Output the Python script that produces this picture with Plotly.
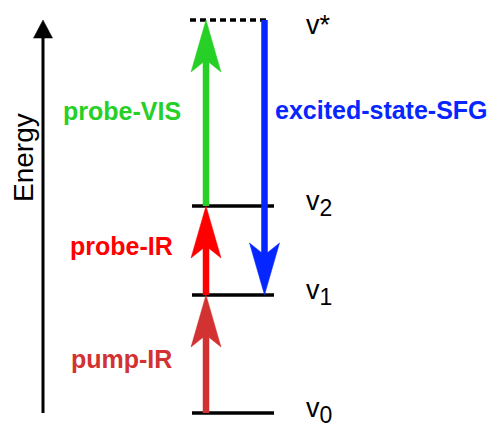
import plotly.graph_objects as go

# ---------------- data ----------------
level_names = ["v", "v", "v", "v"]
level_subscripts = ["0", "1", "2", ""]
level_superscripts = ["", "", "", "*"]
level_energy = [0.0, 1.0, 1.754, 3.33]
level_dashed = [False, False, False, True]

transition_names = ["pump-IR", "probe-IR", "probe-VIS", "excited-state-SFG"]
transition_from = [0, 1, 2, 3]   # index into levels
transition_to = [1, 2, 3, 1]
transition_colors = ["#d23232", "#ff0000", "#26d026", "#0626ff"]

axis_title = "Energy"

# ---------------- layout / style ----------------
W, H = 489, 425
Y_RANGE = [-0.1017, 3.5]
PX_PER_E = H / (Y_RANGE[1] - Y_RANGE[0])

level_x = [[192, 274], [192, 274], [192, 274], [190, 270]]
arrow_x = [206, 206, 206, 264.5]
label_x = [121, 121, 121.5, 381.5]
label_yshift = [-5, 4.5, 2, 47.5]      # px, relative to arrow midpoint
level_label_x = 304
level_label_yshift = [3, 3, 3, -5]
HEAD_LEN, HEAD_HALF, HEAD_NOTCH = 52, 15, 12
FONT = "Liberation Sans, Arial, sans-serif"

fig = go.Figure()

# energy axis arrow
ax_x = 43
e_lo, e_hi = level_energy[0], level_energy[3]
ah_len = 18 / PX_PER_E
fig.add_trace(go.Scatter(x=[ax_x, ax_x], y=[e_lo, e_hi - ah_len + 0.02], mode="lines",
                         line=dict(color="black", width=3), hoverinfo="skip"))
fig.add_trace(go.Scatter(x=[ax_x - 9.5, ax_x, ax_x + 9.5, ax_x - 9.5],
                         y=[e_hi - ah_len, e_hi, e_hi - ah_len, e_hi - ah_len],
                         mode="lines", fill="toself", fillcolor="black",
                         line=dict(color="black", width=0.5), hoverinfo="skip"))

# energy levels
for xs, e, dashed in zip(level_x, level_energy, level_dashed):
    fig.add_trace(go.Scatter(x=xs, y=[e, e], mode="lines",
                             line=dict(color="black", width=3.5,
                                       dash="6px,4px" if dashed else "solid"),
                             hoverinfo="skip"))

# transitions
for i, name in enumerate(transition_names):
    e0 = level_energy[transition_from[i]]
    e1 = level_energy[transition_to[i]]
    d = 1 if e1 > e0 else -1
    x = arrow_x[i]
    c = transition_colors[i]
    L = HEAD_LEN / PX_PER_E
    N = (HEAD_LEN - HEAD_NOTCH) / PX_PER_E
    fig.add_trace(go.Scatter(x=[x, x], y=[e0, e1 - d * N], mode="lines",
                             line=dict(color=c, width=6.5), hoverinfo="skip"))
    fig.add_trace(go.Scatter(
        x=[x, x - HEAD_HALF, x, x + HEAD_HALF, x],
        y=[e1, e1 - d * L, e1 - d * N, e1 - d * L, e1],
        mode="lines", fill="toself", fillcolor=c,
        line=dict(color=c, width=0.5), hoverinfo="skip"))
    fig.add_annotation(x=label_x[i], y=(e0 + e1) / 2, yshift=label_yshift[i],
                       text=f"<b>{name}</b>", showarrow=False,
                       xanchor="center", yanchor="middle",
                       font=dict(family=FONT, size=25, color=c))

# level labels
for nm, sub, sup, e, ys in zip(level_names, level_subscripts, level_superscripts,
                               level_energy, level_label_yshift):
    txt = nm
    if sub:
        txt += f"<sub><span style='font-size:23px'>{sub}</span></sub>"
    if sup:
        txt += sup
    fig.add_annotation(x=level_label_x, y=e, yshift=ys, text=txt, showarrow=False,
                       xanchor="left", yanchor="middle",
                       font=dict(family=FONT, size=27, color="black"))

# axis title
fig.add_annotation(x=23, y=2.161, text=axis_title, textangle=-90, showarrow=False,
                   xanchor="center", yanchor="middle",
                   font=dict(family=FONT, size=28, color="black"))

fig.update_layout(
    width=W, height=H, margin=dict(l=0, r=0, t=0, b=0),
    paper_bgcolor="white", plot_bgcolor="white", showlegend=False,
    xaxis=dict(range=[0, W], visible=False, fixedrange=True),
    yaxis=dict(range=Y_RANGE, visible=False, fixedrange=True),
)

fig.write_html("out.html", config={"displayModeBar": False},
               post_script="document.body.style.margin='0';document.body.style.overflow='hidden';")
